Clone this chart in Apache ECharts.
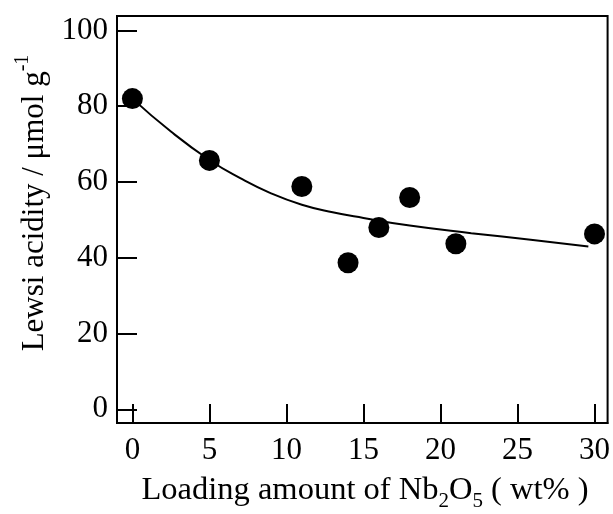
<!DOCTYPE html>
<html>
<head>
<meta charset="utf-8">
<script src="https://cdn.jsdelivr.net/npm/echarts@6/dist/echarts.min.js"></script>
<style>html,body{margin:0;padding:0;background:#fff}#c{width:613px;height:514px}</style>
</head>
<body>
<div id="c"></div>
<script>
const loading = [0, 5, 11, 14, 16, 18, 21, 30];
const acidity = [82, 65.7, 58.8, 38.7, 48, 55.9, 43.7, 46.3];
const fitX = [0, 2.5, 5, 7, 9, 11, 13, 15, 18, 22, 26, 29.6];
const fitY = [82, 73.3, 65.8, 61, 57.0, 54.0, 52.0, 50.5, 48.5, 46.5, 44.7, 43];
const xTicks = [0, 5, 10, 15, 20, 25, 30];
const yTicks = [0, 20, 40, 60, 80, 100];

const font = 'Liberation Serif';
const chart = echarts.init(document.getElementById('c'));
chart.setOption({
  animation: false,
  grid: { left: 117, top: 16, right: 4, bottom: 91, show: true, borderColor: '#000', borderWidth: 2 },
  xAxis: {
    type: 'value', min: -1, max: 30.85,
    axisLine: { show: true, onZero: false, lineStyle: { color: '#000', width: 2 } },
    axisTick: { show: true, inside: true, length: 19, lineStyle: { color: '#000', width: 2 }, customValues: xTicks },
    axisLabel: { color: '#000', fontFamily: font, fontSize: 31, margin: 12, customValues: xTicks },
    splitLine: { show: false }
  },
  yAxis: {
    type: 'value', min: -3.6, max: 103.8,
    axisLine: { show: true, onZero: false, lineStyle: { color: '#000', width: 2 } },
    axisTick: { show: true, inside: true, length: 20, lineStyle: { color: '#000', width: 2 }, customValues: yTicks },
    axisLabel: { color: '#000', fontFamily: font, fontSize: 31, margin: 9, customValues: yTicks },
    splitLine: { show: false }
  },
  series: [
    {
      type: 'line', data: fitX.map((x, i) => [x, fitY[i]]), smooth: 0.5,
      showSymbol: false, lineStyle: { color: '#000', width: 2 }, z: 2
    },
    {
      type: 'scatter', data: loading.map((x, i) => [x, acidity[i]]),
      symbol: 'circle', symbolSize: 21, itemStyle: { color: '#000', opacity: 1 }, z: 3
    }
  ],
  graphic: [
    {
      type: 'text', x: 365, y: 490,
      style: {
        text: 'Loading amount of Nb{sub|2}O{sub|5} ( wt% )',
        fontFamily: font, fontSize: 32.5, fill: '#000',
        align: 'center', verticalAlign: 'middle', lineHeight: 44,
        rich: { sub: { fontFamily: font, fontSize: 21, lineHeight: 14, verticalAlign: 'bottom', fill: '#000' } }
      }
    },
    {
      type: 'text', x: 35, y: 203, rotation: Math.PI / 2,
      style: {
        text: 'Lewsi acidity / μmol g{sup|-1}',
        fontFamily: font, fontSize: 31, fill: '#000',
        align: 'center', verticalAlign: 'middle', lineHeight: 44,
        rich: { sup: { fontFamily: font, fontSize: 20, lineHeight: 16, verticalAlign: 'top', fill: '#000' } }
      }
    }
  ]
});
</script>
</body>
</html>
